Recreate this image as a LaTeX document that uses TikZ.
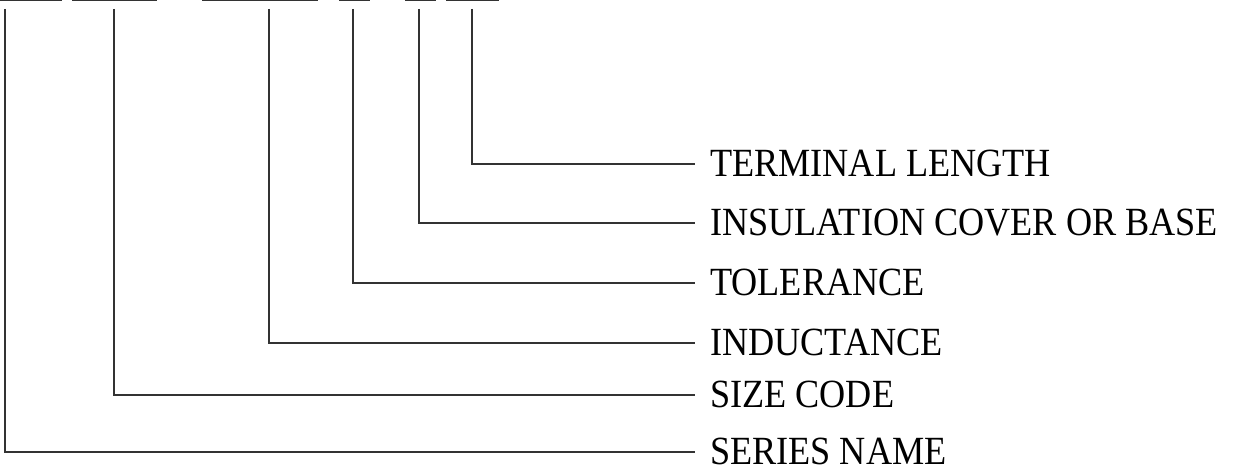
\documentclass[tikz,border=0pt]{standalone}
\usepackage{fontspec}
\setmainfont{Liberation Serif}
\usetikzlibrary{positioning}
\newcommand{\fieldname}[1]{\scalebox{0.905}[1]{#1}}
\tikzset{
    codeline/.style={line width=1.3pt, black!80},
    partlabel/.style={anchor=west, inner xsep=15pt, inner ysep=0pt, text height=25pt, text depth=0pt,
        font=\fontsize{40}{44}\selectfont}
}

\begin{document}
\begin{tikzpicture}[x=1pt, y=-1pt]
    \useasboundingbox (0,0) rectangle (1234,470);
    % blanks of the part number
    \foreach \a/\b in {0/62, 72/157, 202/318, 339/370, 405/436, 446/499}
        \draw[codeline] (\a,0.6) -- (\b,0.6);
    \coordinate (series) at (5,9);
    \coordinate (size) at (114,9);
    \coordinate (induct) at (269,9);
    \coordinate (toler) at (353,9);
    \coordinate (insul) at (419,9);
    \coordinate (term) at (472,9);
    \node[partlabel] (termL) at (695,164) {\fieldname{TERMINAL LENGTH}};
    \node[partlabel] (insulL) at (695,223) {\fieldname{INSULATION COVER OR BASE}};
    \node[partlabel] (tolerL) at (695,283) {\fieldname{TOLERANCE}};
    \node[partlabel] (inductL) at (695,343) {\fieldname{INDUCTANCE}};
    \node[partlabel] (sizeL) at (695,395) {\fieldname{SIZE CODE}};
    \node[partlabel] (seriesL) at (695,452) {\fieldname{SERIES NAME}};
    \foreach \c in {term, insul, toler, induct, size, series}
        \draw[codeline] (\c) |- (\c L.west);
\end{tikzpicture}
\end{document}
